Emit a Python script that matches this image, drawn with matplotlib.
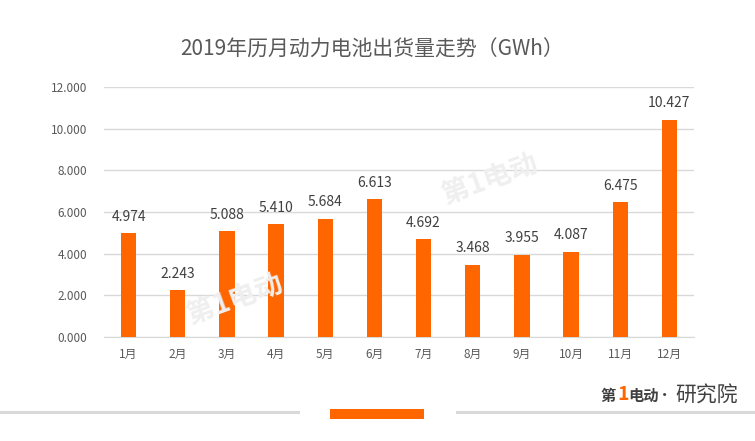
import matplotlib
matplotlib.use('Agg')
import matplotlib.pyplot as plt
from matplotlib.patches import Rectangle
from matplotlib.lines import Line2D

plt.rcParams['font.family'] = ['Noto Sans CJK SC', 'DejaVu Sans']

months = ['1月', '2月', '3月', '4月', '5月', '6月', '7月', '8月', '9月', '10月', '11月', '12月']
values = [4.974, 2.243, 5.088, 5.410, 5.684, 6.613, 4.692, 3.468, 3.955, 4.087, 6.475, 10.427]
yticks = [0, 2, 4, 6, 8, 10, 12]

orange = '#FF6600'

fig = plt.figure(figsize=(7.55, 4.41), dpi=100, facecolor='white')
# axes: x 104..694 px, y 87..337 px
ax = fig.add_axes([104 / 755, 1 - 337 / 441, 590 / 755, 250 / 441])

x = range(len(months))
ax.bar(x, values, width=0.31, color=orange, zorder=3)
for i, v in enumerate(values):
    ax.text(i, v + 0.45, f'{v:.3f}', ha='center', va='bottom', fontsize=10, color='#404040')

ax.set_xlim(-0.5, len(months) - 0.5)
ax.set_ylim(0, 12)
ax.set_yticks(yticks)
ax.set_yticklabels([f'{t:.3f}' for t in yticks], fontsize=8.5, color='#595959')
ax.set_xticks(list(x))
ax.set_xticklabels(months, fontsize=8.5, color='#595959')
ax.tick_params(length=0, pad=8)
ax.tick_params(axis='y', pad=12)
ax.grid(axis='y', color='#D9D9D9', lw=1, zorder=0)
for s in ['top', 'right', 'left']:
    ax.spines[s].set_visible(False)
ax.spines['bottom'].set_color('#D9D9D9')

fig.text(372 / 755, 1 - 50 / 441, '2019年历月动力电池出货量走势（GWh）', ha='center', va='center',
         fontsize=15, color='#595959')

# faint watermarks
fig.text(490 / 755, 1 - 180 / 441, '第1电动', fontsize=20, color='#EFEFEF', rotation=20,
         ha='center', va='center', fontweight='bold', zorder=0)
fig.text(235 / 755, 1 - 300 / 441, '第1电动', fontsize=20, color='#EFEFEF', rotation=20,
         ha='center', va='center', fontweight='bold', zorder=0)

# bottom decoration
fig.add_artist(Line2D([0, 298 / 755], [1 - 412 / 441] * 2, color='#D9D9D9', lw=2.2))
fig.add_artist(Line2D([457 / 755, 1], [1 - 412 / 441] * 2, color='#D9D9D9', lw=2.2))
fig.add_artist(Rectangle((330 / 755, 1 - 419 / 441), 94 / 755, 10 / 441,
                         transform=fig.transFigure, color=orange, lw=0))

# logo
fig.text(600 / 755, 1 - 396 / 441, '第', fontsize=11, color='#404040', fontweight='bold',
         ha='left', va='center')
fig.text(617 / 755, 1 - 394 / 441, '1', fontsize=14, color=orange, fontweight='bold',
         ha='left', va='center', style='italic')
fig.text(628 / 755, 1 - 396 / 441, '电动', fontsize=11, color='#404040', fontweight='bold',
         ha='left', va='center')
fig.text(665 / 755, 1 - 396 / 441, '•', fontsize=11, color='#404040', ha='center', va='center')
fig.text(738 / 755, 1 - 396 / 441, '研究院', fontsize=15, color='#404040',
         ha='right', va='center')

fig.savefig('out.png', dpi=100, facecolor='white')
